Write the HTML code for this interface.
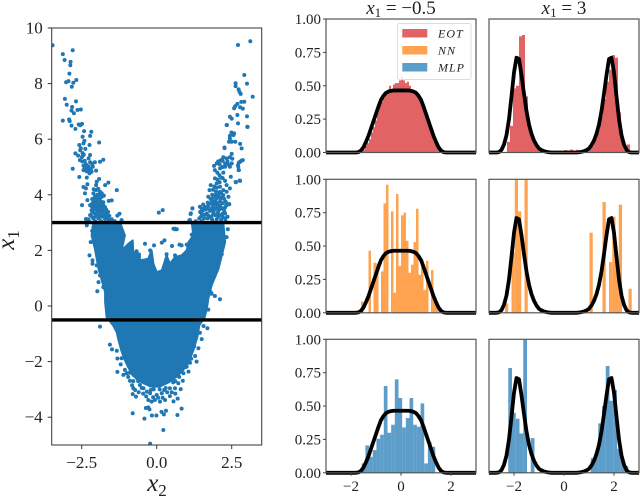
<!DOCTYPE html>
<html>
<head>
<meta charset="utf-8">
<title>Conditional density comparison</title>
<style>
html,body{margin:0;padding:0;background:#fff;}
svg{display:block;}
text{font-family:"Liberation Serif",serif;fill:#222;}
</style>
</head>
<body>
<svg id="fig" width="640" height="497" viewBox="0 0 640 497" xmlns="http://www.w3.org/2000/svg"></svg>
<script>
// ---------- scatter data (x2, x1) ----------
const scatterXTicks = [-2.5, 0, 2.5];
const scatterYTicks = [-4, -2, 0, 2, 4, 6, 8, 10];
const sliceLevels = [3, -0.5];
const denseCoreOutline = [
[-2.11,3.0],[-2.17,2.54],[-2.06,2.06],[-2.0,1.7],[-1.94,1.34],[-1.83,.92],[-1.72,.5],[-1.72,.14],[-1.67,-.4],[-1.45,-.7],[-1.33,-.95],
[-1.28,-1.2],[-1.18,-1.6],[-1.08,-1.9],[-.95,-2.2],[-.8,-2.5],[-.5,-2.75],[-.2,-2.9],[.1,-2.9],[.4,-2.75],[.65,-2.55],[.85,-2.35],[1.05,-2.05],
[1.22,-1.6],[1.36,-1.1],[1.42,-.7],[1.6,-.4],[1.67,-.1],[1.72,.26],[1.83,.74],[2.06,1.34],[2.17,1.82],[2.28,2.3],[2.22,3.0],
[1.17,3.0],[1.22,2.54],[1.06,2.3],[1.0,2.0],[.83,1.82],[.61,1.76],[.44,1.52],[.33,1.82],[.17,1.28],[0,1.22],[-.11,1.52],[-.17,2.0],
[-.28,1.7],[-.56,1.64],[-.56,1.88],[-.78,1.94],[-.8,2.36],[-.94,2.24],[-1.17,2.0],[-1.06,2.54],[-1.22,3.0]
];
const scatterPoints = [
[-3.47,9.38],[-3.13,9.06],[-2.8,9.2],[-3.07,8.85],[-2.87,8.78],[-2.88,8.66],[-2.91,8.36],[-2.68,8.13],[-2.78,8.03],[-2.94,8.09],[-3.02,8.05],[-2.83,7.89],
[-3.06,7.45],[-2.69,7.36],[-3.0,7.24],[-2.82,7.16],[-2.84,7.03],[-2.76,6.93],[-2.64,7.05],[-2.53,7.07],[-3.13,6.67],[-2.92,6.71],[-2.9,6.65],[-2.84,6.49],
[-2.71,6.37],[-2.6,6.53],[-2.49,6.55],[-2.55,6.5],
[-2.42,6.29],[-2.18,6.27],[-2.47,6.09],[-2.22,6.12],[-1.92,5.88],[-2.41,5.94],[-2.44,5.85],[-2.24,5.79],[-2.58,5.79],[-2.53,5.67],[-2.38,5.65],[-2.71,5.49],
[-2.62,5.41],[-2.49,5.36],[-2.56,5.25],[-2.22,5.43],[-2.27,5.31],[-1.78,5.26],[-2.06,5.17],[-2.22,5.17],[-1.89,5.19],[-2.8,4.94],[-2.44,5.05],[-2.38,4.98],
[-2.44,4.89],[-2.31,4.89],[-2.36,5.1],[-2.13,5.01],[-2.02,4.87],[-2.24,4.77],[-2.17,4.83],[-2.58,4.64],[-2.33,4.62],[-1.92,4.57],[-2.0,4.47],[-2.31,4.38],
[-2.44,4.28],[-2.36,4.23],[-1.61,4.44],[-1.72,4.35],[-1.33,4.17],[-2.02,4.35],[-2.02,4.17],[-1.89,4.11],[-2.11,4.05],[-1.94,3.99],[-1.83,4.05],[-2.39,4.05],
[-2.06,3.93],[-1.89,3.87],[-2.31,3.81],[-1.76,3.97],[-2.09,3.75],[-1.94,3.69],[-2.49,3.63],[-2.22,3.63],[-1.5,3.8],[-1.6,3.78],[-1.78,3.73],[-2.17,3.45],
[-2.02,3.51],[-1.83,3.54],[-1.72,3.39],[-1.89,3.39],[-2.06,3.33],[-2.22,3.27],[-1.24,3.32],[-1.31,3.25],[-1.67,3.27],[-2.36,3.13],[-2.11,3.15],[-1.83,3.21],
[-1.94,3.15],[-1.72,3.13],[-1.5,3.12],[-1.17,3.09],[-2.0,3.8],[-1.98,3.6],[-1.9,3.6],[-2.1,3.6],[-1.95,3.45],[-2.0,3.3],[-1.78,3.35],[-1.6,3.1],[-2.25,3.05],
[-2.3,3.02],[-2.05,3.05],[-1.4,3.05],[-1.85,3.05],[-1.98,4.0],[-2.0,3.9],[-2.12,3.45],[-1.8,3.45],
[-2.4,5.0],[-2.33,5.05],[-2.27,5.02],[-2.4,4.93],[-2.28,4.95],[-2.2,4.92],[-2.34,4.85],[-2.27,4.83],[-2.48,5.2],[-2.4,5.22],[-2.15,5.12],[-2.55,5.6],[-2.47,5.5],[-2.43,5.44],
[-2.1,4.2],[-1.95,4.22],[-1.88,4.0],[-1.84,3.92],[-2.15,3.85],[-2.05,3.82],[-1.96,3.78],[-1.85,3.75],[-1.9,3.72],[-2.14,3.7],[-2.03,3.66],[-1.86,3.64],[-1.78,3.62],[-2.16,3.58],[-1.72,3.55],
[-2.06,3.48],[-1.9,3.5],[-1.76,3.48],[-1.68,3.46],[-2.15,3.36],[-1.97,3.38],[-1.84,3.36],[-1.62,3.38],[-1.58,3.24],[-1.75,3.25],[-1.9,3.25],[-2.03,3.22],[-2.15,3.2],[-1.66,3.15],[-2.28,3.12],
[.07,3.36],[.2,3.45],[.61,2.76],[.67,2.76],
[2.71,9.39],[3.12,9.52],[2.92,8.31],[3.01,8.0],[2.63,8.01],[2.63,7.91],[2.73,7.79],[2.76,7.7],[2.8,7.63],[3.2,7.53],[2.92,7.35],[2.82,7.34],[2.69,7.27],[2.62,7.19],
[2.58,7.11],[2.78,7.15],[2.87,7.1],[2.69,6.87],[3.01,6.82],[2.44,6.81],[2.5,6.74],[2.71,6.57],[3.03,6.44],[2.34,6.51],[2.49,6.24],[2.56,6.15],[2.44,6.12],[2.62,5.91],
[2.5,5.91],[2.41,5.91],[2.78,5.83],[2.83,5.67],[2.26,5.68],[2.5,5.47],[2.22,5.35],[2.33,5.31],[2.44,5.35],[2.52,5.3],[2.14,5.25],[2.0,5.13],[1.91,5.04],[2.33,5.13],
[2.5,5.13],[2.83,5.23],[2.74,5.16],[2.71,5.07],[2.73,4.89],[2.11,4.95],[1.94,4.89],[2.28,5.01],[2.44,5.01],[2.09,4.71],[2.22,4.8],[2.47,4.65],[2.78,4.5],[2.63,4.46],
[1.94,4.59],[2.0,4.41],[1.8,4.35],[2.33,4.35],[2.11,4.29],[2.22,4.17],[2.44,4.23],[1.76,4.17],[1.98,4.11],[2.33,4.11],[1.72,3.93],[1.89,3.93],[2.06,3.93],[2.22,3.99],
[2.39,3.93],[1.19,3.51],[1.14,3.33],[1.09,3.09],[1.44,3.57],[1.61,3.57],[1.78,3.69],[1.94,3.75],[2.11,3.75],[2.41,3.67],[1.5,3.33],[1.67,3.33],[1.83,3.51],[2.0,3.51],
[2.17,3.51],[2.28,3.33],[1.42,3.15],[1.58,3.15],[1.78,3.21],[1.94,3.27],[2.11,3.27],[2.36,3.21],[1.55,3.45],[1.7,3.5],[1.9,3.4],[2.05,3.4],[2.2,3.2],[1.7,3.15],
[1.85,3.1],[2.0,3.12],[2.15,3.1],[2.3,3.05],[1.3,3.05],[1.5,3.05],[1.98,3.65],[2.05,3.62],[1.85,3.8],[2.15,3.9],[2.3,3.75],[2.1,4.1],[2.28,4.5],[2.2,4.6],
[2.05,5.2],[2.2,5.22],[2.1,5.1],[2.28,5.12],[2.2,5.0],[2.36,5.2],[2.4,5.08],[2.02,4.8],[2.15,4.62],[2.03,4.55],[2.1,4.45],[2.0,4.25],[1.92,4.3],[1.88,4.18],[2.15,4.05],[2.05,4.0],
[1.95,3.98],[1.85,4.0],[1.8,3.85],[1.98,3.85],[2.12,3.85],[2.25,3.85],[1.7,3.72],[1.87,3.68],[2.02,3.7],[2.2,3.7],[2.32,3.62],[1.55,3.65],[1.72,3.6],[1.88,3.6],[2.12,3.6],[2.28,3.55],
[1.5,3.5],[1.62,3.48],[1.78,3.42],[1.95,3.5],[2.1,3.48],[2.25,3.42],[1.45,3.38],[1.6,3.28],[1.72,3.25],[1.88,3.3],[2.03,3.32],[2.2,3.32],[1.48,3.22],[1.82,3.18],[2.05,3.2],[2.28,3.15],
[-2.24,1.82],[-2.14,1.64],[-2.14,1.52],[-2.0,1.46],[-2.03,1.22],[-1.89,1.1],[-1.94,.86],[-1.98,.53],[-1.78,.68],[-2.33,2.9],[-2.11,2.84],[-2.2,2.3],[-2.15,2.7],
[.61,2.78],[.56,2.78],[2.37,2.76],[2.33,2.48],[2.2,2.18],[2.17,1.86],[2.09,1.68],[1.94,1.22],[1.8,.8],[1.78,1.04],[1.8,.5],[1.94,.36],[2.11,.24],[1.83,.44],[1.72,-.13],[1.56,-.16],
[-.39,2.24],[-.09,2.18],[.17,2.28],[.26,2.36],[.51,2.16],[.76,2.21],[.83,2.18],[1.0,2.21],[1.17,2.57],[1.36,2.69],[-.67,1.97],[-.22,2.0],[.33,1.86],[.61,1.82],
[-1.89,-.74],[-1.56,-1.39],[-1.49,-1.56],[-1.33,-1.61],[-1.31,-1.89],[-1.31,-2.37],[-1.11,-2.48],[-1.0,-2.42],[-1.06,-2.3],[-1.17,-1.88],[-.89,-2.69],[-.78,-2.96],[-.8,-3.17],
[-.69,-3.26],[-.72,-3.02],[-.56,-2.84],[-.44,-2.96],[-.33,-3.08],[-.22,-3.14],[-.28,-3.38],[-.36,-3.67],[-.24,-3.72],[-.28,-3.65],[-.8,-3.86],[-.41,-4.05],[-.16,-3.94],
[-.01,-3.94],[.16,-3.81],[.24,-3.9],[.31,-3.77],[.69,-3.92],[.83,-3.69],[.7,-3.33],[.56,-3.43],[.44,-3.24],[.28,-3.38],[.11,-3.44],[-.06,-3.38],[-.17,-3.44],[0,-3.2],[.17,-3.14],
[.44,-2.96],[.61,-2.96],[.8,-2.99],[.72,-2.78],[.87,-2.69],[.89,-2.42],[1.06,-2.36],[1.0,-2.18],[1.11,-2.04],[1.33,-2.0],[1.28,-1.8],[1.39,-1.52],[1.5,-1.19],[1.44,-.96],[1.69,-.8],[1.56,-.72],
[.22,-4.46],[-.22,-4.95],[-.78,-2.7],[-.65,-2.6],[-.5,-2.95],[-.1,-3.0],[.1,-3.0],[.3,-2.95],[.55,-2.75],[-.9,-2.4],[-1.2,-2.1],[1.15,-1.9],[1.25,-1.45],[-.35,-3.25],[.05,-3.3],[.35,-3.1],
[-.95,-2.55],[-.82,-2.85],[-.6,-3.1],[-.62,-2.7],[-.45,-3.15],[-.2,-3.02],[-.12,-3.28],[.2,-3.3],[.5,-3.1],[.62,-3.15],[.75,-2.55],[.95,-2.2],[.62,-2.7],[.25,-3.02],
[2.33,6.51],[3.02,6.45],[2.44,6.03],[2.58,6.21],[2.26,5.7],[2.87,5.25],[2.78,5.19],[2.72,5.01],[2.74,4.89],[2.76,4.51],[2.64,4.45],[2.42,3.66],[1.13,3.31],[1.19,3.51],[1.11,3.09]
];
// ---------- histogram data ----------
const histYTicks = [0, 0.25, 0.5, 0.75, 1];
const histXTicks = [-2, 0, 2];
const columnTitles = ["\u22120.5", "3"];
const legendLabels = ["EOT", "NN", "MLP"];
const curveLeft = [0,0,0,0,0,0,0,0,0,0,0,0,0,.003,.015,.04,.08,.125,.18,.235,.29,.345,.395,.425,.447,.457,.462,.465,.465,.465,.465,.465,.465,.465,.462,.457,.447,.425,.395,.345,.29,.235,.18,.125,.08,.04,.015,.003,0,0,0,0,0,0,0,0,0,0,0,0,0];
const curveRight = [0,0,0,0,.003,.02,.06,.13,.25,.42,.6,.71,.7,.58,.44,.31,.21,.14,.09,.055,.03,.018,.01,.005,.002,0,0,0,0,0,0,0,0,0,0,0,.002,.005,.01,.018,.03,.055,.09,.14,.21,.31,.44,.58,.7,.71,.6,.42,.25,.13,.06,.02,.003,0,0,0,0];
const eotLeftStart = -1.6, eotLeftWidth = 0.08;
const eotLeft = [.005,.02,.05,.07,.1,.15,.19,.24,.3,.35,.38,.41,.44,.46,.5,.47,.51,.52,.52,.54,.565,.54,.52,.53,.5,.47,.465,.46,.43,.4,.36,.32,.27,.23,.18,.13,.09,.06,.04,.015];
const eotRightStart = -2.28, eotRightWidth = 0.12;
const eotRight = [.08,.2,.48,.5,.87,.88,.42,.2,.13,.08,.03,.02,.01,.008,.01,.01,.012,.008,.01,.018,.015,.022,.015,.02,.012,.01,.02,.035,.05,.1,.17,.27,.4,.53,.62,.73,.71,.3,.12,.02,.06];
const nnLeftStart = -1.6, nnLeftWidth = 0.1;
const nnLeft = [.085,0,0,.465,0,.375,.37,0,.31,.82,.96,0,.76,.15,.89,.35,.73,.75,.54,.3,.36,.53,.78,.285,.4,.17,.39,0,.32,.1,.05];
const nnRightStart = -2.36, nnRightWidth = 0.13;
const nnRight = [.07,0,.45,1.3,.76,0,1.3,0,0,0,0,0,0,0,0,0,0,0,0,0,0,0,0,0,0,0,.6,0,0,0,.83,0,.38,.72,.4,.81,0,0,.18];
const mlpLeftStart = -1.57, mlpLeftWidth = 0.147;
const mlpLeft = [.07,.205,.12,.17,.255,.285,.65,.3,.36,.7,.56,.34,.41,.56,.36,.345,.52,.07,.23,.195];
const mlpRightStart = -2.23, mlpRightWidth = 0.15;
const mlpRight = [.785,.45,.405,.295,1.3,0,.26,0,0,0,0,0,0,0,0,0,0,0,0,0,0,0,.11,.15,.37,.5,.8,.54,.62,.18,.1,.05];

const svg = document.getElementById('fig');
const NS = 'http://www.w3.org/2000/svg';
function mk(tag, parent) {
  const e = document.createElementNS(NS, tag);
  (parent || svg).appendChild(e);
  return e;
}
function style(e, o) { for (const k in o) e.setAttribute(k, o[k]); return e; }

const defs = mk('defs');

// ---------- scatter ----------
const sL = 51.7, sR = 261.7, sT = 28, sB = 445;
const sx = v => sL + (v + 3.5) / 7 * (sR - sL);
const sy = v => sB - (v + 5) / 15 * (sB - sT);

const scatterClip = mk('clipPath', defs);
scatterClip.id = 'scatterClip';
style(mk('rect', scatterClip), {x: sL, y: sT, width: sR - sL, height: sB - sT});

const scatterGroup = mk('g');



const core = mk('polygon', scatterGroup);


style(core, {points: denseCoreOutline.map(p => sx(p[0]).toFixed(1) + ',' + sy(p[1]).toFixed(1)).join(' '), fill: '#1f77b4', stroke: '#1f77b4', 'stroke-width': 2, 'stroke-linejoin': 'round'});

scatterPoints.forEach(p => {
  const c = mk('circle', scatterGroup);
  
  
  style(c, {cx: sx(p[0]).toFixed(1), cy: sy(p[1]).toFixed(1), r: 2, fill: '#1f77b4', 'clip-path': 'url(#scatterClip)'});
});

sliceLevels.forEach(v => {
  const l = mk('line', scatterGroup);
  
  
  style(l, {x1: sL, x2: sR, y1: sy(v), y2: sy(v), stroke: '#000', 'stroke-width': 3.4});
});

const sFrame = mk('rect', scatterGroup);


style(sFrame, {x: sL, y: sT, width: sR - sL, height: sB - sT, fill: 'none', stroke: '#444', 'stroke-width': 1.1});

scatterXTicks.forEach(t => {
  const m = mk('line', scatterGroup);
  
  
  style(m, {x1: sx(t), x2: sx(t), y1: sB, y2: sB + 4, stroke: '#333', 'stroke-width': 1});
  const lb = mk('text', scatterGroup);
  
  
  style(lb, {x: sx(t), y: 468, 'text-anchor': 'middle', 'font-size': 17});
  lb.textContent = (t < 0 ? '\u2212' : '') + Math.abs(t).toFixed(1);
});
scatterYTicks.forEach(t => {
  const m = mk('line', scatterGroup);
  
  
  style(m, {x1: sL - 4, x2: sL, y1: sy(t), y2: sy(t), stroke: '#333', 'stroke-width': 1});
  const lb = mk('text', scatterGroup);
  
  
  style(lb, {x: sL - 9, y: sy(t) + 5.5, 'text-anchor': 'end', 'font-size': 17});
  lb.textContent = (t < 0 ? '\u2212' : '') + Math.abs(t);
});

const xTitle = mk('text', scatterGroup);


style(xTitle, {x: 157, y: 491, 'text-anchor': 'middle', 'font-size': 25, 'font-style': 'italic'});
xTitle.innerHTML = 'x<tspan dy="5" font-size="17" font-style="normal">2</tspan>';

const yTitle = mk('text', scatterGroup);


style(yTitle, {transform: 'translate(14,240) rotate(-90)', 'text-anchor': 'middle', 'font-size': 25, 'font-style': 'italic'});
yTitle.innerHTML = 'x<tspan dy="5" font-size="17" font-style="normal">1</tspan>';

// ---------- histogram panels ----------
const rowTops = [19, 179.3, 339.3];
const rowHeight = 133.5;
const colLefts = [326, 489];
const colWidth = 150;
const rowColors = ['#d62728', '#ff7f0e', '#1f77b4'];
const rowNames = ['eot', 'nn', 'mlp'];
const rowData = [
  [[eotLeft, eotLeftStart, eotLeftWidth], [eotRight, eotRightStart, eotRightWidth]],
  [[nnLeft, nnLeftStart, nnLeftWidth], [nnRight, nnRightStart, nnRightWidth]],
  [[mlpLeft, mlpLeftStart, mlpLeftWidth], [mlpRight, mlpRightStart, mlpRightWidth]]
];
const curves = [curveLeft, curveRight];

rowTops.forEach((top, r) => {
  colLefts.forEach((left, c) => {
    const X = v => left + (v + 3) / 6 * colWidth;
    const Y = v => top + rowHeight - v * rowHeight;
    const g = mk('g');
    
    

    const clip = mk('clipPath', defs);
    clip.id = 'clip' + r + c;
    style(mk('rect', clip), {x: left, y: top, width: colWidth, height: rowHeight});

    const bars = mk('g', g);
    bars.setAttribute('clip-path', 'url(#clip' + r + c + ')');
    const d = rowData[r][c];
    d[0].forEach((v, i) => {
      if (v <= 0) return;
      const b = mk('rect', bars);
      
      
      const x0 = X(d[1] + i * d[2]), x1 = X(d[1] + (i + 1) * d[2]);
      style(b, {x: x0.toFixed(2), y: Y(v).toFixed(2), width: (x1 - x0).toFixed(2), height: (Y(0) - Y(v)).toFixed(2), fill: rowColors[r], 'fill-opacity': 0.72});
    });

    const cv = curves[c];
    const line = mk('polyline', g);
    
    
    style(line, {points: cv.map((v, i) => X(-3 + i * 0.1).toFixed(2) + ',' + Y(v).toFixed(2)).join(' '), fill: 'none', stroke: '#000', 'stroke-width': 3.8, 'stroke-linejoin': 'round'});

    const fr = mk('rect', g);
    
    
    style(fr, {x: left, y: top, width: colWidth, height: rowHeight, fill: 'none', stroke: '#555', 'stroke-width': 1.2});

    if (c === 0) {
      histYTicks.forEach(t => {
        const m = mk('line', g);
        
        
        style(m, {x1: left - 3, x2: left, y1: Y(t), y2: Y(t), stroke: '#444', 'stroke-width': 1});
        const lb = mk('text', g);
        
        
        style(lb, {x: left - 5, y: Y(t) + 5, 'text-anchor': 'end', 'font-size': 15});
        lb.textContent = t.toFixed(2);
      });
    }
    if (r === 2) {
      histXTicks.forEach(t => {
        const m = mk('line', g);
        
        
        style(m, {x1: X(t), x2: X(t), y1: top + rowHeight, y2: top + rowHeight + 3, stroke: '#444', 'stroke-width': 1});
        const lb = mk('text', g);
        
        
        style(lb, {x: X(t), y: 491, 'text-anchor': 'middle', 'font-size': 15});
        lb.textContent = (t < 0 ? '\u2212' : '') + Math.abs(t);
      });
    }
    if (r === 0) {
      const tt = mk('text', g);
      
      
      style(tt, {x: left + colWidth / 2, y: 14, 'text-anchor': 'middle', 'font-size': 19});
      tt.innerHTML = '<tspan font-style="italic">x</tspan><tspan dy="3" font-size="13">1</tspan><tspan dy="-3"> = ' + columnTitles[c] + '</tspan>';
    }
  });
});

// ---------- legend ----------
const legend = mk('g');


const lbox = mk('rect', legend);


style(lbox, {x: 397.5, y: 23.5, width: 73.5, height: 56, rx: 2, fill: '#fff', 'fill-opacity': 0.8, stroke: '#ddd', 'stroke-width': 1});
legendLabels.forEach((name, i) => {
  const y = 29 + i * 17;
  const sw = mk('rect', legend);
  
  
  style(sw, {x: 402.3, y: y, width: 25, height: 8.5, fill: rowColors[i], 'fill-opacity': 0.72});
  const tx = mk('text', legend);
  
  
  style(tx, {x: 438, y: y + 8.5, 'font-size': 12, 'font-style': 'italic', 'letter-spacing': '1'});
  tx.textContent = name;
});
</script>
</body>
</html>
